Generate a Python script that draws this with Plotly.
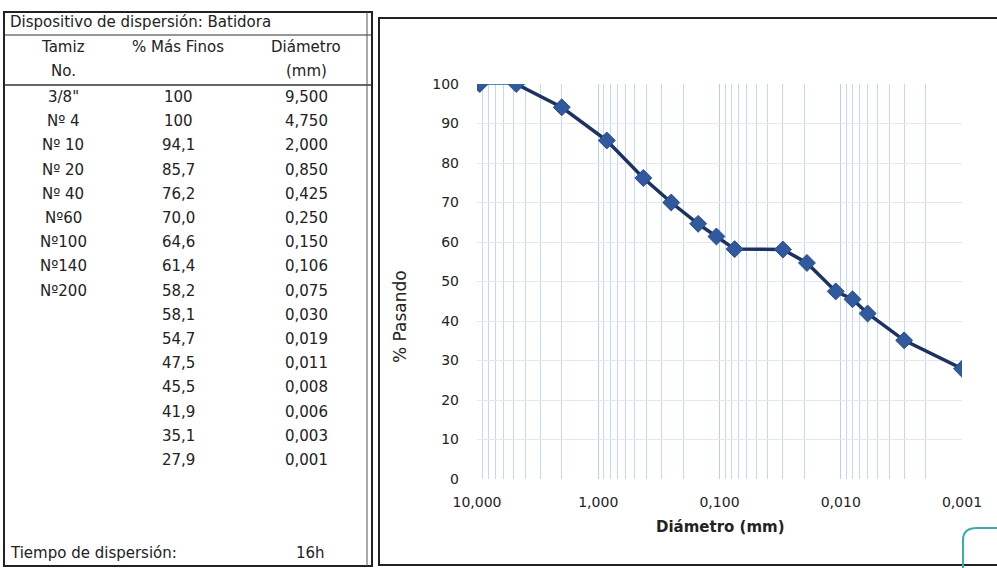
import plotly.graph_objects as go

# ---------------- data ----------------
tamiz = ['3/8"', "Nº 4", "Nº 10", "Nº 20", "Nº 40", "Nº60", "Nº100", "Nº140", "Nº200",
         "", "", "", "", "", "", ""]
mas_finos = [100, 100, 94.1, 85.7, 76.2, 70.0, 64.6, 61.4, 58.2, 58.1, 54.7, 47.5, 45.5, 41.9, 35.1, 27.9]
diametro = [9.500, 4.750, 2.000, 0.850, 0.425, 0.250, 0.150, 0.106, 0.075, 0.030, 0.019, 0.011,
            0.008, 0.006, 0.003, 0.001]
x_tickvals = [10, 1, 0.1, 0.01, 0.001]
x_ticktext = ["10,000", "1,000", "0,100", "0,010", "0,001"]
y_tickvals = [0, 10, 20, 30, 40, 50, 60, 70, 80, 90, 100]

W, H = 997, 568
FONT = "DejaVu Sans"


def px(x):
    return x / W


def py(y):
    return 1 - y / H


def fmt_pct(v):
    return ("%d" % v) if v == 100 else ("%.1f" % v).replace(".", ",")


def fmt_d(v):
    return ("%.3f" % v).replace(".", ",")


fig = go.Figure()

LINE = "#1c3260"
MARK = "#31599e"

fig.add_trace(go.Scatter(x=diametro[:2], y=mas_finos[:2], mode="lines",
                         line=dict(color=MARK, width=1.5), hoverinfo="skip", showlegend=False))
fig.add_trace(go.Scatter(x=diametro[1:], y=mas_finos[1:], mode="lines",
                         line=dict(color=LINE, width=3.5), hoverinfo="skip", showlegend=False))
fig.add_trace(go.Scatter(x=diametro, y=mas_finos, mode="markers",
                         marker=dict(symbol="diamond", size=13, color=MARK,
                                     line=dict(color="#2a4c8a", width=1)),
                         showlegend=False))

x0p, x1p = 477, 962
y0p, y1p = 479, 84

fig.update_layout(
    width=W, height=H,
    margin=dict(l=0, r=0, t=0, b=0, pad=0, autoexpand=False),
    paper_bgcolor="white", plot_bgcolor="white",
    font=dict(family=FONT, size=14, color="#222"),
    xaxis=dict(type="log", range=[1, -3], domain=[px(x0p), px(x1p)], automargin=False,
               tickvals=x_tickvals, ticktext=x_ticktext, ticks="",
               ticklabelstandoff=13, tickfont=dict(size=14, color="#222"),
               showgrid=True, gridcolor="#b9d0ea", gridwidth=1,
               minor=dict(showgrid=True, gridcolor="#c4d8ee", gridwidth=1, dtick="D1"),
               showline=False, zeroline=False),
    yaxis=dict(range=[0, 100], domain=[py(y0p), py(y1p)], automargin=False,
               tickvals=y_tickvals, ticks="", ticklabelstandoff=17,
               tickfont=dict(size=14, color="#222"),
               showgrid=True, gridcolor="#e4e8ee", gridwidth=1,
               showline=False, zeroline=False),
)

ann = []
shapes = []


def text(x, y, s, font, xanchor="center", angle=0):
    ann.append(dict(x=px(x), y=py(y), xref="paper", yref="paper", text=s, showarrow=False,
                    xanchor=xanchor, yanchor="middle", textangle=angle, font=font))


# ---------- chart titles ----------
text(720, 527, "<b>Diámetro (mm)</b>", dict(size=15, color="#222", family=FONT))
text(400, 317, "% Pasando", dict(size=17, color="#222", family=FONT), angle=-90)

# ---------- table ----------
TF = dict(size=15, color="#222", family=FONT)
text(8, 22, "Dispositivo de dispersión: Batidora", TF, xanchor="left")
col_tamiz, col_pct, col_d = 63, 178, 306
for cx, t1, t2 in [(col_tamiz, "Tamiz", "No."), (col_pct, "% Más Finos", ""), (col_d, "Diámetro", "(mm)")]:
    text(cx, 47, t1, TF)
    if t2:
        text(cx, 71, t2, TF)

row0, step = 97, 24.2
for i, (t, p, d) in enumerate(zip(tamiz, mas_finos, diametro)):
    yy = row0 + i * step
    if t:
        text(col_tamiz, yy, t, TF)
    text(col_pct, yy, fmt_pct(p), TF)
    text(col_d, yy, fmt_d(d), TF)

text(8, 553, "Tiempo de dispersión:", TF, xanchor="left")
text(310, 553, "16h", TF)

# table frame
shapes.append(dict(type="rect", xref="paper", yref="paper", x0=px(4), x1=px(372), y0=py(566), y1=py(12),
                   line=dict(color="#222", width=2)))
shapes.append(dict(type="line", xref="paper", yref="paper", x0=px(4), x1=px(372), y0=py(35), y1=py(35),
                   line=dict(color="#333", width=1.2)))
shapes.append(dict(type="line", xref="paper", yref="paper", x0=px(4), x1=px(372), y0=py(85), y1=py(85),
                   line=dict(color="#333", width=1.5)))
shapes.append(dict(type="line", xref="paper", yref="paper", x0=px(367), x1=px(367), y0=py(566), y1=py(12),
                   line=dict(color="#555", width=1)))
# chart frame
shapes.append(dict(type="rect", xref="paper", yref="paper", x0=px(379), x1=px(1005), y0=py(565), y1=py(18),
                   line=dict(color="#222", width=2)))
# teal corner mark (scan artifact)
shapes.append(dict(type="path", xref="paper", yref="paper",
                   path="M %f %f L %f %f Q %f %f %f %f L %f %f" % (
                       px(963), py(570), px(963), py(540), px(963), py(528), px(977), py(528),
                       px(1000), py(528)),
                   line=dict(color="#3aaea6", width=2)))

fig.update_layout(annotations=ann, shapes=shapes)
fig.write_html("out.html")
